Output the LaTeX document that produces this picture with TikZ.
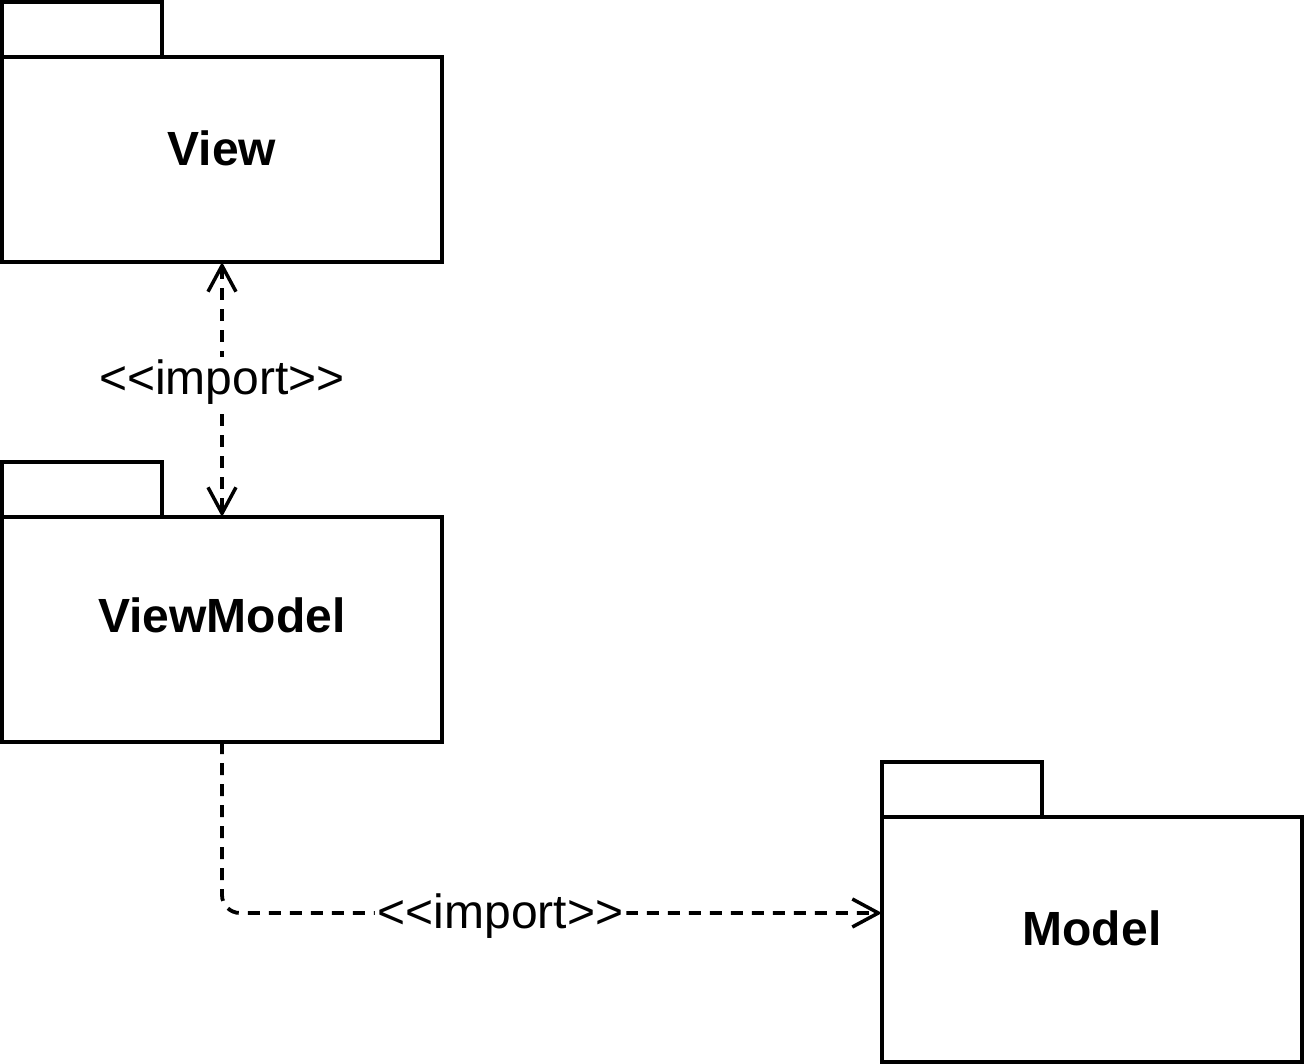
\documentclass[tikz,border=0pt]{standalone}
\usepackage{fontspec}
\setmainfont{Liberation Sans}
\usetikzlibrary{arrows.meta}

\newcommand{\imptext}{<\kern0pt<import>\kern0pt>}

\tikzset{
  pkg/.style={draw, line width=3.8pt, rectangle, inner sep=0pt, outer sep=0pt, fill=white, anchor=north west},
  pkgname/.style={font=\fontsize{48}{56}\selectfont\bfseries},
  imptip/.tip={Straight Barb[length=26pt, width=28pt, line width=3.5pt]},
  dep/.style={line width=3.8pt, dash pattern=on 12pt off 9pt},
  deplabel/.style={fill=white, inner sep=3pt, yshift=-3pt, font=\fontsize{48}{56}\selectfont},
}

\begin{document}
\begin{tikzpicture}[x=1pt,y=-1pt]
    \useasboundingbox (0,0) rectangle (1304,1064);

    % View
    \node[pkg, minimum width=160pt, minimum height=55pt] (viewtab) at (2,2) {};
    \node[pkg, minimum width=440pt, minimum height=205pt] (view) at (2,57) {};
    \node[pkgname] (viewname) at (222,148) {View};

    % ViewModel
    \node[pkg, minimum width=160pt, minimum height=55pt] (vmtab) at (2,462) {};
    \node[pkg, minimum width=440pt, minimum height=225pt] (vm) at (2,517) {};
    \node[pkgname] (vmname) at (222,615) {ViewModel};

    % Model
    \node[pkg, minimum width=160pt, minimum height=55pt] (modeltab) at (882,762) {};
    \node[pkg, minimum width=420pt, minimum height=245pt] (model) at (882,817) {};
    \node[pkgname] (modelname) at (1092,928) {Model};

    % imports
    \draw[dep, imptip-imptip] (view.south) -- node[deplabel, pos=0.46] (imp1) {\imptext} (vm.north);
    \draw[dep, -imptip, rounded corners=18pt] (vm.south) |- node[deplabel, pos=0.711] (imp2) {\imptext} ([yshift=26.5pt]model.west);
\end{tikzpicture}
\end{document}
